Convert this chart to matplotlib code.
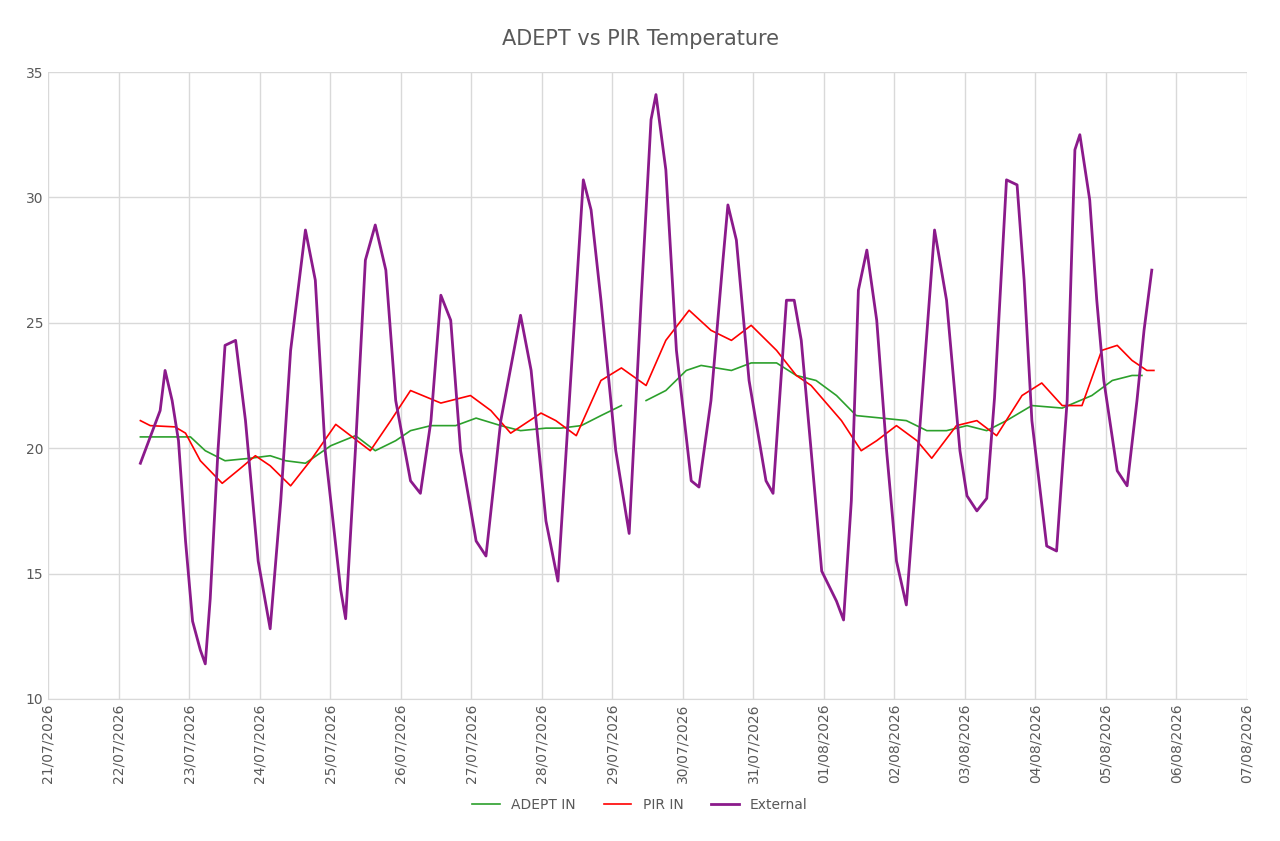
import matplotlib.pyplot as plt
import numpy as np

# day offsets from 21/07/2026
tick_labels = ['21/07/2026', '22/07/2026', '23/07/2026', '24/07/2026', '25/07/2026', '26/07/2026',
               '27/07/2026', '28/07/2026', '29/07/2026', '30/07/2026', '31/07/2026', '01/08/2026',
               '02/08/2026', '03/08/2026', '04/08/2026', '05/08/2026', '06/08/2026', '07/08/2026']

ext_days = [1.31, 1.59, 1.66, 1.76, 1.85, 1.95, 2.05, 2.16, 2.23, 2.30, 2.41, 2.51, 2.66, 2.80, 2.98, 3.15,
            3.30, 3.44, 3.58, 3.65, 3.79, 3.93, 4.15, 4.22, 4.36, 4.50, 4.64, 4.79, 4.93, 5.14, 5.28, 5.43,
            5.57, 5.71, 5.85, 6.07, 6.21, 6.42, 6.70, 6.85, 7.06, 7.23, 7.41, 7.59, 7.70, 7.84, 8.05, 8.24,
            8.41, 8.55, 8.62, 8.76, 8.91, 9.12, 9.23, 9.40, 9.57, 9.64, 9.76, 9.94, 10.18, 10.28, 10.47,
            10.58, 10.68, 10.82, 10.97, 11.18, 11.28, 11.39, 11.49, 11.61, 11.75, 11.89, 12.03, 12.17,
            12.39, 12.57, 12.74, 12.93, 13.03, 13.17, 13.31, 13.42, 13.59, 13.74, 13.84, 13.95, 14.16,
            14.30, 14.45, 14.56, 14.63, 14.77, 14.87, 14.97, 15.16, 15.30, 15.44, 15.54, 15.65]
ext_temp = [19.4, 21.5, 23.1, 21.9, 20.3, 16.3, 13.1, 11.95, 11.4, 14.0, 19.9, 24.1, 24.3, 21.1, 15.5, 12.8,
            17.9, 23.9, 27.1, 28.7, 26.7, 19.9, 14.35, 13.2, 20.0, 27.5, 28.9, 27.1, 21.9, 18.7, 18.2, 21.1,
            26.1, 25.1, 19.9, 16.3, 15.7, 21.1, 25.3, 23.1, 17.1, 14.7, 22.7, 30.7, 29.5, 25.9, 19.9, 16.6,
            25.9, 33.1, 34.1, 31.1, 23.9, 18.7, 18.45, 21.9, 27.5, 29.7, 28.3, 22.7, 18.7, 18.2, 25.9,
            25.9, 24.3, 19.9, 15.1, 13.9, 13.15, 17.9, 26.3, 27.9, 25.1, 19.9, 15.5, 13.75,
            21.9, 28.7, 25.9, 19.9, 18.1, 17.5, 18.0, 22.0, 30.7, 30.5, 26.7, 21.1, 16.1,
            15.9, 21.9, 31.9, 32.5, 29.9, 25.9, 22.7, 19.1, 18.5, 21.9, 24.7, 27.1]

pir_days = [1.31, 1.45, 1.80, 1.95, 2.16, 2.47, 2.73, 2.94, 3.15, 3.44, 3.72, 4.08, 4.29, 4.57, 4.86, 5.14,
            5.57, 5.99, 6.28, 6.56, 6.99, 7.20, 7.49, 7.84, 8.13, 8.48, 8.76, 9.09, 9.40, 9.69, 9.97, 10.33,
            10.61, 10.82, 11.25, 11.53, 11.75, 12.03, 12.32, 12.53, 12.88, 13.17, 13.45, 13.81, 14.09,
            14.38, 14.66, 14.94, 15.16, 15.37, 15.58, 15.68]
pir_temp = [21.1, 20.9, 20.85, 20.6, 19.5, 18.6, 19.2, 19.7, 19.3, 18.5, 19.5, 20.95, 20.5, 19.9, 21.1, 22.3,
            21.8, 22.1, 21.5, 20.6, 21.4, 21.1, 20.5, 22.7, 23.2, 22.5, 24.3, 25.5, 24.7, 24.3, 24.9, 23.9,
            22.9, 22.5, 21.1, 19.9, 20.3, 20.9, 20.3, 19.6, 20.9, 21.1, 20.5, 22.1, 22.6,
            21.7, 21.7, 23.9, 24.1, 23.5, 23.1, 23.1]

adept_days = [1.31, 2.02, 2.23, 2.51, 2.87, 3.15, 3.37, 3.65, 4.01, 4.36, 4.64, 4.93, 5.14, 5.43, 5.78, 6.07,
              6.42, 6.70, 7.06, 7.27, 7.56, 7.84, 8.13, 8.30, 8.48, 8.76, 9.05, 9.26, 9.69, 9.97, 10.33,
              10.61, 10.89, 11.18, 11.46, 11.82, 12.17, 12.46, 12.74, 13.03, 13.31, 13.59, 13.95, 14.38,
              14.80, 15.09, 15.37, 15.51]
adept_temp = [20.45, 20.45, 19.9, 19.5, 19.6, 19.7, 19.5, 19.4, 20.1, 20.5, 19.9, 20.3, 20.7, 20.9, 20.9, 21.2,
              20.9, 20.7, 20.8, 20.8, 20.9, 21.3, 21.7, np.nan, 21.9, 22.3, 23.1, 23.3, 23.1, 23.4, 23.4,
              22.9, 22.7, 22.1, 21.3, 21.2, 21.1, 20.7, 20.7, 20.9, 20.7, 21.1, 21.7, 21.6,
              22.1, 22.7, 22.9, 22.9]

fig = plt.figure(figsize=(12.8, 8.41), dpi=100)
ax = fig.add_axes([48 / 1280, 1 - 699 / 841, 1199 / 1280, 627 / 841])

ax.plot(adept_days, adept_temp, color='#2ca02c', lw=1.2, label='ADEPT IN')
ax.plot(pir_days, pir_temp, color='#ff0000', lw=1.2, label='PIR IN')
ax.plot(ext_days, ext_temp, color='#8b1a8b', lw=2, label='External')

ax.set_xlim(0, 17)
ax.set_ylim(10, 35)
ax.set_xticks(range(len(tick_labels)))
ax.set_xticklabels(tick_labels, rotation=90, fontsize=10, color='#595959')
ax.set_yticks([10, 15, 20, 25, 30, 35])
ax.tick_params(axis='y', labelsize=10, colors='#595959', length=0)
ax.tick_params(axis='x', length=0)
ax.grid(True, color='#d9d9d9', lw=1)
for s in ['top', 'right', 'left']:
    ax.spines[s].set_visible(False)
ax.spines['bottom'].set_color('#d9d9d9')

fig.suptitle('ADEPT vs PIR Temperature', y=0.965, fontsize=15, color='#595959')
fig.legend(loc='center', bbox_to_anchor=(0.5, 1 - 805 / 841), ncol=3, frameon=False,
           fontsize=10, labelcolor='#595959')

fig.savefig('out.png', dpi=100)
